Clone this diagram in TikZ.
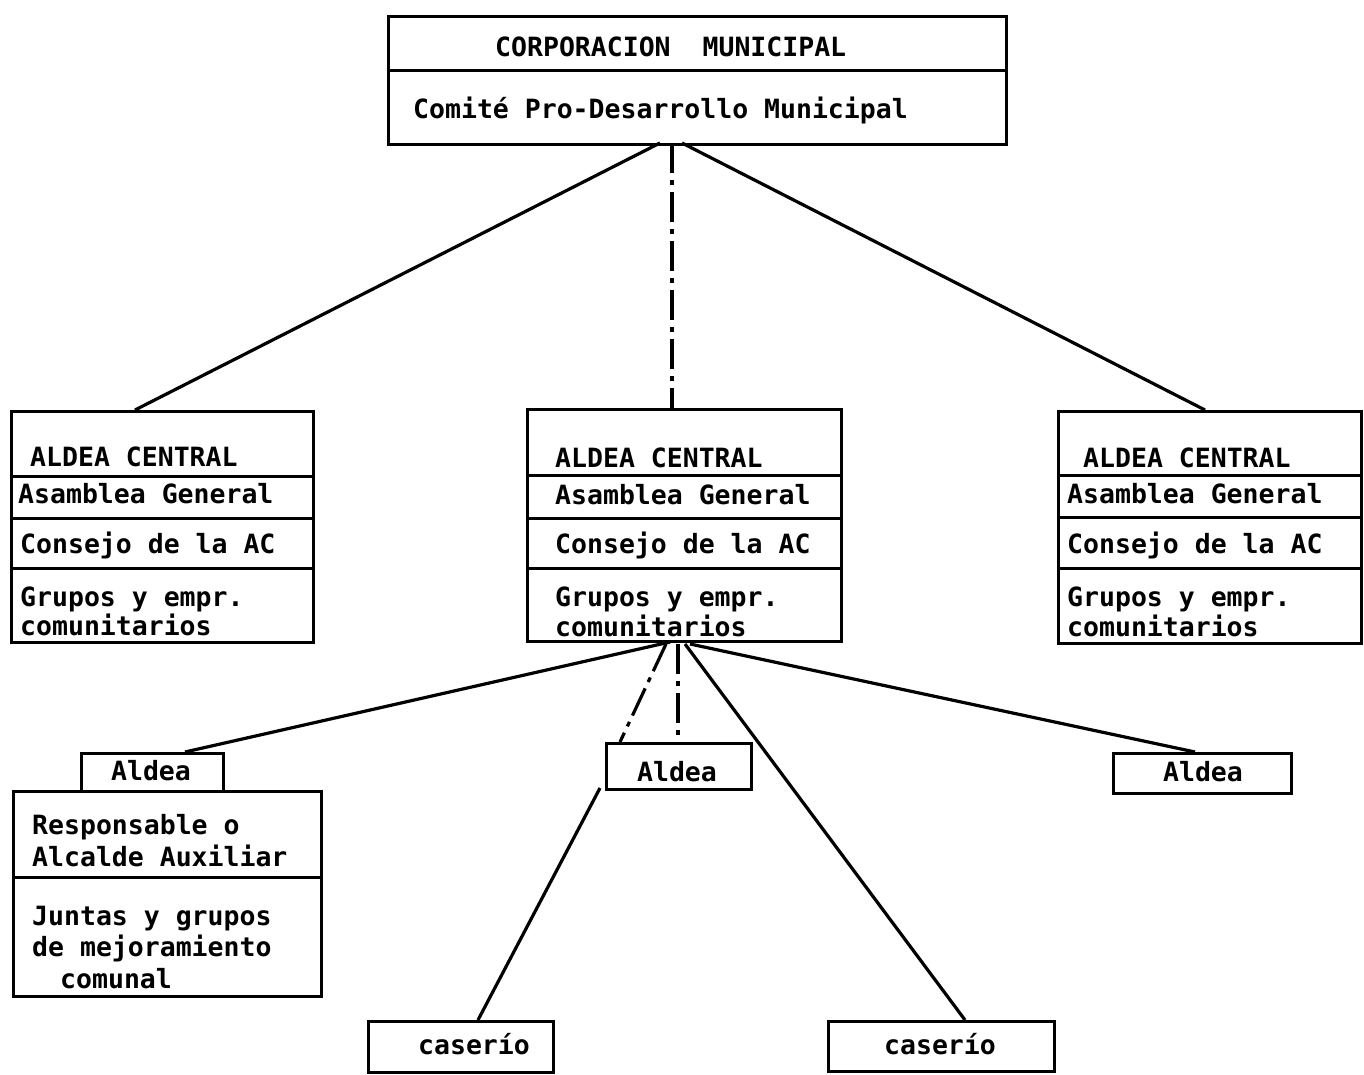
\documentclass[tikz,border=0pt]{standalone}
\usepackage{fontspec}
\setmonofont{DejaVu Sans Mono}
\begin{document}
\begin{tikzpicture}[x=1pt,y=-1pt,
  box/.style={draw, line width=3.2pt, inner sep=0pt, anchor=north west},
  txt/.style={font=\ttfamily\bfseries\fontsize{26.5}{30}\selectfont, inner sep=0pt, anchor=base west},
  ctxt/.style={font=\ttfamily\bfseries\fontsize{26.5}{30}\selectfont, inner sep=0pt, anchor=base},
  rule/.style={line width=3pt},
  conn/.style={line width=3.2pt},
  dashconn/.style={line width=3.2pt, dash pattern=on 30pt off 7pt on 5pt off 7pt}]
\useasboundingbox (0,0) rectangle (1364,1075);

% top box
\node[box, minimum width=618pt, minimum height=128pt] (top) at (387,15) {};
\draw[rule] (top.west |- 0,71) -- (top.east |- 0,71);
\node[txt] (t1) at (495,57) {CORPORACION~~MUNICIPAL};
\node[txt] (t2) at (413,119) {Comité Pro-Desarrollo Municipal};

% left aldea central
\node[box, minimum width=302pt, minimum height=231pt] (acL) at (10,410) {};
\draw[rule] (acL.west |- 0,476) -- (acL.east |- 0,476);
\draw[rule] (acL.west |- 0,518) -- (acL.east |- 0,518);
\draw[rule] (acL.west |- 0,568) -- (acL.east |- 0,568);
\node[txt] (l1) at (30,466) {ALDEA CENTRAL};
\node[txt] (l2) at (18,503) {Asamblea General};
\node[txt] (l3) at (20,553) {Consejo de la AC};
\node[txt] (l4) at (20,606) {Grupos y empr.};
\node[txt] (l5) at (20,635) {comunitarios};

% center aldea central
\node[box, minimum width=314pt, minimum height=232pt] (acC) at (526,408) {};
\draw[rule] (acC.west |- 0,475) -- (acC.east |- 0,475);
\draw[rule] (acC.west |- 0,518) -- (acC.east |- 0,518);
\draw[rule] (acC.west |- 0,568) -- (acC.east |- 0,568);
\node[txt] (c1) at (555,467) {ALDEA CENTRAL};
\node[txt] (c2) at (555,504) {Asamblea General};
\node[txt] (c3) at (555,553) {Consejo de la AC};
\node[txt] (c4) at (555,606) {Grupos y empr.};
\node[txt] (c5) at (555,636) {comunitarios};

% right aldea central
\node[box, minimum width=303pt, minimum height=232pt] (acR) at (1057,410) {};
\draw[rule] (acR.west |- 0,475) -- (acR.east |- 0,475);
\draw[rule] (acR.west |- 0,517) -- (acR.east |- 0,517);
\draw[rule] (acR.west |- 0,568) -- (acR.east |- 0,568);
\node[txt] (r1) at (1083,467) {ALDEA CENTRAL};
\node[txt] (r2) at (1067,503) {Asamblea General};
\node[txt] (r3) at (1067,553) {Consejo de la AC};
\node[txt] (r4) at (1067,606) {Grupos y empr.};
\node[txt] (r5) at (1067,636) {comunitarios};

% left aldea
\node[box, minimum width=142pt, minimum height=38pt] (alL) at (80,752) {};
\node[ctxt] (alLt) at (151,780) {Aldea};
\node[box, minimum width=308pt, minimum height=205pt] (alLb) at (12,790) {};
\draw[rule] (alLb.west |- 0,877) -- (alLb.east |- 0,877);
\node[txt] (b1) at (32,834) {Responsable o};
\node[txt] (b2) at (32,866) {Alcalde Auxiliar};
\node[txt] (b3) at (32,925) {Juntas y grupos};
\node[txt] (b4) at (32,956) {de mejoramiento};
\node[txt] (b5) at (60,988) {comunal};

% center aldea
\node[box, minimum width=145pt, minimum height=46pt] (alC) at (605,742) {};
\node[ctxt] (alCt) at (677,781) {Aldea};

% right aldea
\node[box, minimum width=178pt, minimum height=40pt] (alR) at (1112,752) {};
\node[ctxt] (alRt) at (1203,781) {Aldea};

% caserios
\node[box, minimum width=185pt, minimum height=51pt] (caL) at (367,1020) {};
\node[ctxt] (caLt) at (474,1054) {caserío};
\node[box, minimum width=226pt, minimum height=50pt] (caR) at (827,1020) {};
\node[ctxt] (caRt) at (940,1054) {caserío};

% connector end points
\coordinate (apL) at (660,143);
\coordinate (apC) at (672,143);
\coordinate (apR) at (682,143);
\coordinate (acLtop) at (135,410);
\coordinate (acCtop) at (672,408);
\coordinate (acRtop) at (1205,410);
\coordinate (cb1) at (670,642);
\coordinate (cb2) at (666,644);
\coordinate (cb3) at (678,644);
\coordinate (cb4) at (685,644);
\coordinate (cb5) at (690,644);
\coordinate (alLtop) at (185,752);
\coordinate (alCtop1) at (620,742);
\coordinate (alCtop2) at (678,742);
\coordinate (alRtop) at (1195,752);
\coordinate (alCbot) at (600,788);
\coordinate (caLtop) at (478,1020);
\coordinate (caRtop) at (965,1020);

\draw[conn] (apL) -- (acLtop);
\draw[dashconn] (apC) -- (acCtop);
\draw[conn] (apR) -- (acRtop);
\draw[conn] (cb1) -- (alLtop);
\draw[dashconn] (cb2) -- (alCtop1);
\draw[dashconn] (cb3) -- (alCtop2);
\draw[conn] (cb4) -- (caRtop);
\draw[conn] (cb5) -- (alRtop);
\draw[conn] (alCbot) -- (caLtop);
\end{tikzpicture}
\end{document}
